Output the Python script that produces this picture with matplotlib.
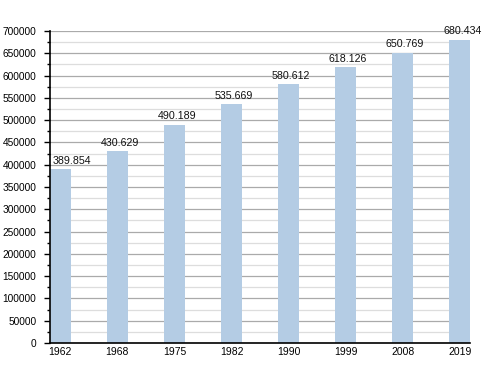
import matplotlib
matplotlib.use("Agg")
import matplotlib.pyplot as plt
from matplotlib.ticker import MultipleLocator

years = ["1962", "1968", "1975", "1982", "1990", "1999", "2008", "2019"]
population = [389854, 430629, 490189, 535669, 580612, 618126, 650769, 680434]
value_labels = ["389.854", "430.629", "490.189", "535.669", "580.612", "618.126", "650.769", "680.434"]

plt.rcParams['font.family'] = ['Liberation Sans', 'DejaVu Sans']
fig = plt.figure(figsize=(5.0, 3.73), dpi=100)
ax = fig.add_axes([0.1, 0.0804, 0.84, 0.8365])

w = 0.36
x = list(range(len(years)))
bars = ax.bar(x, population, width=w, color="#b4cce4", zorder=2)
for i, (xi, v, lab) in enumerate(zip(x, population, value_labels)):
    dx = 8.5 if i == 0 else 1.8
    ax.annotate(lab, (xi, v), xytext=(dx, 2.5), textcoords="offset points",
                ha="center", va="bottom", fontsize=7.7, color="#111111",
                annotation_clip=False, zorder=3)

ax.set_xlim(-w / 2, len(years) - 1 + w / 2)
ax.set_ylim(0, 700000)
ax.set_xticks(x)
ax.set_xticklabels(years)
ax.yaxis.set_major_locator(MultipleLocator(50000))
ax.yaxis.set_minor_locator(MultipleLocator(25000))
ax.tick_params(axis="y", which="major", length=4.3, width=1.0, labelsize=7.3, pad=5.5, direction="out")
ax.tick_params(axis="y", which="minor", length=2.0, width=1.0, direction="out")
ax.tick_params(axis="x", length=0, labelsize=7.5, pad=3)

ax.grid(axis="y", which="major", color="#aaaaaa", linewidth=0.9, zorder=0)
ax.grid(axis="y", which="minor", color="#dddddd", linewidth=0.9, zorder=0)
ax.set_axisbelow(True)
for s in ["top", "right"]:
    ax.spines[s].set_visible(False)
for s in ["left", "bottom"]:
    ax.spines[s].set_linewidth(1.2)
    ax.spines[s].set_zorder(4)

fig.savefig("out.png", dpi=100)
